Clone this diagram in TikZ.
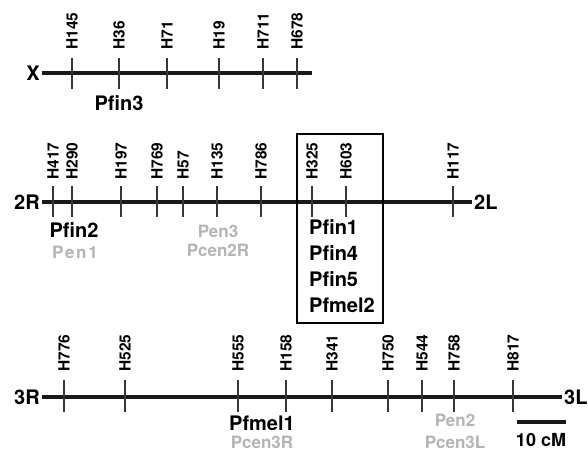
\documentclass[tikz,border=0pt]{standalone}
\usepackage{fontspec}
\setmainfont{TeX Gyre Heros}
\usetikzlibrary{positioning}
\definecolor{chromcol}{RGB}{25,25,25}
\definecolor{tickcol}{RGB}{55,55,55}
\definecolor{fadecol}{RGB}{180,180,180}
\tikzset{
  chrom/.style={line width=3.6pt,draw=chromcol},
  tickmark/.style={line width=1.1pt,draw=tickcol},
  marker/.style={rotate=90,anchor=west,inner sep=0pt,font=\fontsize{15.5}{16}\selectfont\bfseries},
  chrname/.style={inner sep=2pt,font=\fontsize{20}{22}\selectfont\bfseries},
  gene/.style={inner sep=0pt,font=\fontsize{20}{21}\selectfont\bfseries},
  faded/.style={inner sep=0pt,text=fadecol,font=\fontsize{17}{18}\selectfont\bfseries},
  cluster/.style={draw,line width=1.3pt},
  scalebar/.style={line width=3.6pt,draw=chromcol}
}
\begin{document}
\begin{tikzpicture}[x=1pt,y=1pt]
  \useasboundingbox (0,0) rectangle (588,452);
  % chromosome X
  \node[chrname,anchor=east] (X) at (42,379) {X};
  \coordinate (Xend) at (312,379);
  \draw[chrom] (X) -- (Xend);
  \foreach \m/\x in {H145/72,H36/119,H71/167,H19/219,H711/263,H678/297}{
    \draw[tickmark] (\x,363) -- (\x,394);
    \node[marker] (\m) at (\x,402) {\m};
  }
  \node[gene] (Pfin3) at (119,349) {Pfin3};
  % chromosome 2
  \node[chrname,anchor=east] (2R) at (42,250) {2R};
  \node[chrname,anchor=west] (2L) at (472,250) {2L};
  \draw[chrom] (2R) -- (2L);
  \foreach \m/\x in {H417/53,H290/72,H197/121,H769/157,H57/183,H135/217,H786/261,H325/312,H603/346,H117/453}{
    \draw[tickmark] (\x,235) -- (\x,266);
    \node[marker] (\m) at (\x,272) {\m};
  }
  \node[gene] (Pfin2) at (74,222) {Pfin2};
  \node[faded,font=\fontsize{17}{18}\selectfont\bfseries\addfontfeature{LetterSpace=10}] (Pen1) at (75,200) {Pen1};
  \node[faded] (Pen3) at (218,221) {Pen3};
  \node[faded] (Pcen2R) at (218,202) {Pcen2R};
  \coordinate (boxNW) at (297,318);
  \coordinate (boxSE) at (383,129);
  \draw[cluster] (boxNW) rectangle (boxSE);
  \node[gene,anchor=west] (Pfin1) at (309,225) {Pfin1};
  \node[gene,below=26pt of Pfin1.west,anchor=west] (Pfin4) {Pfin4};
  \node[gene,below=26pt of Pfin4.west,anchor=west] (Pfin5) {Pfin5};
  \node[gene,below=26pt of Pfin5.west,anchor=west] (Pfmel2) {Pfmel2};
  % chromosome 3
  \node[chrname,anchor=east] (3R) at (42,55) {3R};
  \node[chrname,anchor=west] (3L) at (562,55) {3L};
  \draw[chrom] (3R) -- (3L);
  \foreach \m/\x in {H776/64,H525/125,H555/238,H158/286,H341/332,H750/388,H544/422,H758/454,H817/513}{
    \draw[tickmark] (\x,40) -- (\x,72);
    \node[marker] (\m) at (\x,80) {\m};
  }
  \node[gene] (Pfmel1) at (262,29) {Pfmel1};
  \node[faded] (Pcen3R) at (262,10) {Pcen3R};
  \node[faded] (Pen2) at (455,32) {Pen2};
  \node[faded] (Pcen3L) at (455,10) {Pcen3L};
  % scale
  \coordinate (barL) at (517,30);
  \coordinate (barR) at (566,30);
  \draw[scalebar] (barL) -- (barR);
  \node[gene,font=\fontsize{18}{20}\selectfont\bfseries] (scale) at (541,12) {10 cM};
\end{tikzpicture}
\end{document}
